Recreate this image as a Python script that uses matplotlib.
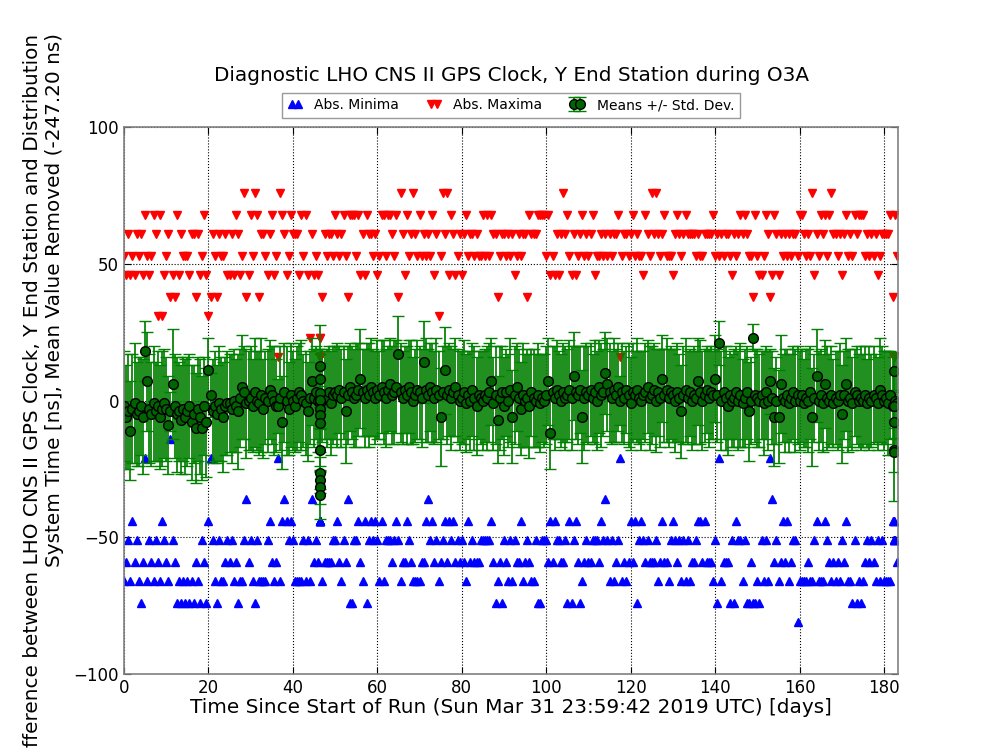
import numpy as np
import matplotlib
matplotlib.use("Agg")
import matplotlib.pyplot as plt

# sampling grid: one record every half day
days = np.arange(0, 183.25, 0.5)

abs_max = [
    53,46,61,46,53,46,61,53,61,46,
    68,53,46,53,68,61,31,68,31,46,
    53,61,38,46,38,68,46,61,53,53,
    53,46,61,61,38,61,46,53,68,46,
    31,38,61,53,38,61,53,53,61,46,
    46,61,46,68,61,46,53,76,38,46,
    68,53,76,68,38,61,61,53,46,61,
    68,46,53,16,76,68,61,46,53,68,
    61,61,61,46,68,53,68,46,23,61,
    46,53,46,23,38,61,53,61,61,53,
    68,61,53,61,68,53,38,68,68,68,
    53,68,46,61,46,68,61,61,53,61,
    46,53,68,68,53,68,68,61,53,68,
    38,76,61,46,68,53,61,76,61,53,
    68,53,61,53,61,53,68,46,61,31,
    53,76,61,76,46,68,61,46,53,61,
    46,61,68,53,61,61,53,61,53,53,
    68,53,68,53,68,61,61,38,53,61,
    61,53,61,53,61,46,53,61,53,61,
    61,38,68,61,61,61,68,68,68,68,
    53,68,46,53,46,61,46,61,76,61,
    68,53,46,61,46,53,61,68,53,61,
    53,61,68,46,53,53,61,53,61,53,
    61,53,61,61,68,16,53,61,61,53,
    61,68,53,61,53,53,46,68,61,53,
    76,61,76,61,53,61,68,53,53,53,
    46,61,68,61,53,61,68,61,61,61,
    61,53,61,53,53,61,61,61,61,68,
    53,61,53,61,53,61,61,53,46,61,
    53,61,68,61,68,61,53,53,38,68,
    53,46,46,53,68,61,38,46,68,61,
    46,61,53,61,53,61,53,61,61,53,
    68,68,61,53,61,53,76,46,61,53,
    68,61,68,53,68,76,61,61,53,61,
    46,61,68,53,61,53,68,61,68,68,
    68,53,61,53,61,53,61,46,53,61,
    61,61,61,68,38,68,53,
]

abs_min = [
    -66,-59,-51,-66,-44,-59,-51,-66,-74,-59,
    -21,-66,-51,-59,-66,-51,-59,-66,-44,-51,
    -59,-66,-14,-51,-59,-74,-66,-74,-66,-74,
    -66,-74,-66,-74,-59,-66,-74,-51,-59,-74,
    -44,-21,-51,-66,-74,-51,-66,-66,-59,-51,
    -59,-51,-66,-59,-74,-66,-66,-51,-36,-59,
    -51,-66,-74,-51,-66,-66,-66,-66,-51,-44,
    -59,-66,-59,-21,-66,-44,-36,-44,-51,-44,
    -51,-66,-66,-66,-66,-51,-66,-51,-66,-36,
    -59,-51,-59,-44,-66,-59,-59,-59,-59,-51,
    -51,-44,-59,-66,-51,-59,-36,-74,-74,-51,
    -51,-44,-59,-66,-44,-74,-51,-44,-51,-44,
    -51,-66,-44,-66,-51,-51,-51,-59,-51,-44,
    -51,-66,-59,-59,-44,-51,-59,-66,-66,-66,
    -66,-59,-59,-44,-36,-51,-44,-59,-51,-66,
    -59,-51,-44,-59,-44,-51,-44,-59,-51,-59,
    -51,-59,-66,-44,-59,-51,-59,-59,-59,-51,
    -51,-51,-51,-51,-44,-59,-74,-66,-59,-74,
    -51,-59,-66,-51,-66,-51,-59,-59,-44,-66,
    -59,-51,-59,-66,-66,-51,-74,-74,-51,-51,
    -51,-59,-44,-59,-44,-51,-51,-59,-59,-51,
    -74,-44,-74,-51,-44,-59,-74,-66,-59,-51,
    -59,-59,-51,-51,-51,-59,-44,-51,-36,-51,
    -66,-51,-66,-59,-51,-21,-66,-59,-66,-59,
    -44,-59,-44,-74,-51,-44,-51,-59,-51,-59,
    -59,-59,-51,-66,-59,-44,-59,-59,-66,-51,
    -44,-51,-59,-51,-66,-51,-66,-51,-66,-59,
    -59,-51,-44,-44,-59,-44,-59,-59,-59,-66,
    -51,-74,-21,-66,-59,-59,-59,-74,-51,-74,
    -44,-51,-51,-66,-51,-74,-74,-59,-74,-74,
    -66,-74,-51,-66,-51,-66,-21,-36,-59,-51,
    -66,-59,-44,-59,-44,-66,-59,-51,-51,-81,
    -66,-66,-66,-66,-59,-66,-66,-51,-44,-66,
    -66,-66,-44,-51,-59,-66,-59,-66,-59,-66,
    -51,-59,-44,-66,-66,-74,-51,-74,-66,-74,
    -66,-59,-51,-59,-51,-59,-66,-51,-66,-51,
    -66,-66,-66,-66,-44,-51,-59,
]

means = [
    -2,-6,-4,-11,-3,-1,-5,-4,-2,-6,
    18,7,-3,-5,-1,-4,-2,-6,-3,-1,
    -3,-9,-4,6,-2,-5,-4,-7,-3,-6,
    -4,-2,-8,-5,-10,-3,-6,-10,-2,-8,
    11,2,-4,-2,-5,-1,-3,-6,-2,-1,
    -1,-3,0,-2,-4,1,5,3,-1,0,
    1,-2,3,0,-1,2,-3,1,0,4,
    2,0,-2,-2,1,-8,3,0,-3,2,
    0,-2,1,3,2,0,-1,-4,1,7,
    1,3,0,-1,2,2,1,3,-1,2,
    3,2,4,1,3,-4,2,5,3,1,
    2,4,8,3,1,4,2,5,3,1,
    4,2,5,3,1,4,6,2,3,5,
    17,3,1,4,2,5,3,0,2,4,
    3,1,14,4,2,5,3,1,4,2,
    -6,3,11,2,4,1,3,5,2,0,
    1,3,-1,2,0,4,1,-2,2,1,
    0,2,1,3,7,-1,2,-7,1,3,
    -2,3,0,4,-6,2,5,1,-3,2,
    0,1,-2,3,1,0,2,-1,1,0,
    2,7,-12,3,1,4,2,0,3,1,
    2,4,1,9,3,2,4,-6,1,3,
    2,4,1,3,0,5,2,3,10,6,
    3,1,4,2,5,0,3,1,4,2,
    -1,3,2,4,1,0,2,3,5,1,
    2,4,0,3,1,8,2,4,1,3,
    2,0,3,1,-4,2,4,1,3,0,
    2,1,7,3,0,2,4,1,3,2,
    8,2,21,0,3,1,-2,2,0,1,
    3,0,2,-1,1,3,-4,0,23,2,
    1,0,2,-1,3,0,7,1,-6,0,
    -6,6,1,0,2,-1,1,3,0,2,
    0,2,-1,1,0,3,-6,1,9,0,
    2,-1,6,1,0,2,-1,1,0,2,
    -5,2,6,0,1,-1,3,2,0,1,
    0,2,-1,1,0,2,1,-1,4,2,
    0,1,-1,2,-2,0,-1,
]

stds = [
    20,19,21,18,20,22,19,20,18,21,
    11,18,20,19,21,18,20,19,21,20,
    19,18,7,20,19,21,18,20,19,21,
    20,19,21,18,20,19,21,19,18,20,
    12,8,19,20,18,21,19,20,18,19,
    18,20,19,17,21,18,19,17,20,18,
    19,17,20,18,19,21,18,17,19,18,
    18,20,17,10,19,17,18,20,17,19,
    18,17,19,18,20,17,19,18,17,16,
    18,17,19,18,17,16,18,17,19,18,
    17,19,16,18,17,19,18,16,17,18,
    19,17,18,16,18,17,19,18,16,17,
    18,16,17,19,18,16,17,18,19,17,
    14,18,17,16,18,17,19,16,17,18,
    17,18,15,19,17,16,18,17,19,16,
    18,17,16,18,17,19,16,18,17,18,
    17,19,18,16,18,17,19,18,16,17,
    18,17,19,18,16,17,18,16,19,17,
    18,16,17,19,17,18,16,18,17,19,
    17,18,19,16,18,17,19,18,16,17,
    18,16,13,17,19,18,16,17,18,19,
    17,18,19,16,17,18,16,17,19,18,
    18,17,16,19,18,17,19,16,15,17,
    18,17,19,17,16,9,18,17,16,19,
    17,18,16,19,17,18,16,18,17,19,
    18,17,19,16,18,16,17,19,18,17,
    17,19,18,16,17,18,19,17,16,18,
    18,17,16,19,18,17,16,18,17,16,
    16,17,8,18,17,19,18,16,17,18,
    17,18,19,16,18,17,18,16,5,17,
    18,17,16,19,17,18,12,17,18,16,
    17,18,16,19,17,18,16,17,19,18,
    18,17,16,18,19,17,18,16,17,18,
    17,18,16,19,17,18,16,17,18,19,
    18,16,17,19,18,17,16,18,17,19,
    17,18,16,19,17,18,16,17,19,18,
    18,17,19,16,18,17,18,
]

# short data segments (many records on the same day)
seg1_days = [46.4, 46.4, 46.4, 46.4, 46.4, 46.4, 46.4, 46.4, 46.4, 46.4, 46.4, 46.4]
seg1_mean = [12.6, 7.8, 2.8, 0.2, -3.1, -5.3, -8.2, -18.0, -26.5, -29.0, -31.7, -34.5]
seg1_std = [15, 6, 5, 5, 5, 5, 6, 8, 6, 5, 6, 9]
seg1_max = [23, 16, 16, 16, 16, 16, 16, 16, 16, 16, 16, 16]
seg1_min = [-29, -29, -29, -29, -29, -29, -44, -44, -44, -44, -44, -44]

seg2_days = [182.3, 182.3, 182.3, 182.3, 182.3]
seg2_mean = [10.8, -2.0, -7.8, -18.0, -18.8]
seg2_std = [7, 5, 6, 8, 18]
seg2_max = [16, 16, 16, 16, 16]
seg2_min = [-44, -44, -51, -51, -51]

t = np.concatenate([days, seg1_days, seg2_days])
mx = np.concatenate([abs_max, seg1_max, seg2_max])
mn = np.concatenate([abs_min, seg1_min, seg2_min])
mu = np.concatenate([means, seg1_mean, seg2_mean])
sd = np.concatenate([stds, seg1_std, seg2_std])

plt.rcParams['font.family'] = ['DejaVu Sans']

fig = plt.figure(figsize=(10, 7.5), dpi=100)
ax = fig.add_axes([0.124, 0.1013, 0.774, 0.7294])

h1, = ax.plot(t, mn, linestyle='none', marker='^', color='blue',
              markeredgecolor='blue', markersize=6, label='Abs. Minima')
h2, = ax.plot(t, mx, linestyle='none', marker='v', color='red',
              markeredgecolor='red', markersize=6, label='Abs. Maxima')
h3 = ax.errorbar(t, mu, yerr=sd, linestyle='none', marker='o',
                 markerfacecolor='darkgreen', markeredgecolor='black',
                 markersize=7, ecolor='green', elinewidth=1.25, capsize=4,
                 capthick=1, label='Means +/- Std. Dev.')

ax.set_xlim(0, 183.3)
ax.set_ylim(-100, 100)
ax.set_xticks(np.arange(0, 181, 20))
ax.set_yticks([-100, -50, 0, 50, 100])
ax.grid(True, color='black', linestyle=':', linewidth=0.8)
ax.tick_params(direction='in', top=True, right=True, length=5, labelsize=12)
for s in ax.spines.values():
    s.set_color('#808080')
    s.set_linewidth(1.2)

ax.set_xlabel('Time Since Start of Run (Sun Mar 31 23:59:42 2019 UTC) [days]',
              fontsize=14.4, labelpad=1)
fig.text(0.044, 0.466,
         'Difference between LHO CNS II GPS Clock, Y End Station and Distribution\n'
         'System Time [ns], Mean Value Removed (-247.20 ns)',
         rotation=90, ha='center', va='center', multialignment='right',
         fontsize=14.4)
fig.text(0.512, 0.899, 'Diagnostic LHO CNS II GPS Clock, Y End Station during O3A',
         ha='center', va='center', fontsize=14.4)

leg = ax.legend(handles=[h1, h2, h3], loc='lower center',
                bbox_to_anchor=(0.5, 1.004), ncol=3, fontsize=10, numpoints=2,
                handlelength=1.0, fancybox=False, borderpad=0.4,
                columnspacing=2.0, handletextpad=0.9)
leg.get_frame().set_edgecolor('#808080')

fig.savefig('out.png', dpi=100, facecolor='white')
